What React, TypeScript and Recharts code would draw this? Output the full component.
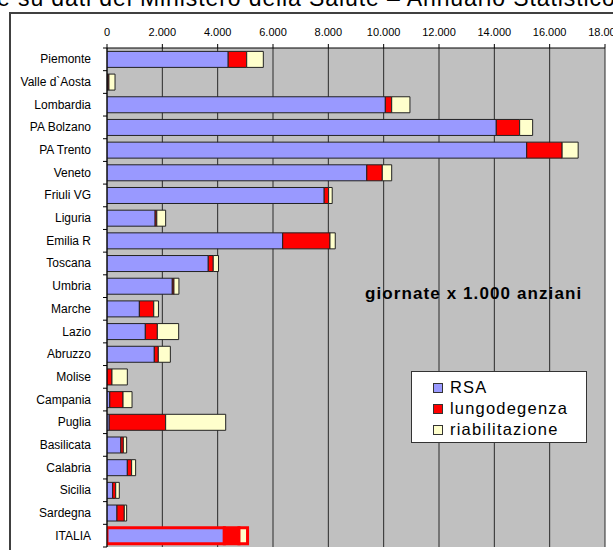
import React from "react";
import {
    BarChart,
    Bar,
    XAxis,
    YAxis,
    CartesianGrid,
    Legend,
    Cell,
} from "recharts";

const FONT = "'Liberation Sans', Arial, sans-serif";

const regioni = [
    "Piemonte",
    "Valle d`Aosta",
    "Lombardia",
    "PA Bolzano",
    "PA Trento",
    "Veneto",
    "Friuli VG",
    "Liguria",
    "Emilia R",
    "Toscana",
    "Umbria",
    "Marche",
    "Lazio",
    "Abruzzo",
    "Molise",
    "Campania",
    "Puglia",
    "Basilicata",
    "Calabria",
    "Sicilia",
    "Sardegna",
    "ITALIA",
];

const rsa = [4380, 30, 10060, 14070, 15170, 9390, 7850, 1740, 6350, 3660, 2360, 1170, 1385, 1710, 0, 100, 80, 500, 735, 205, 360, 4240];
const lungodegenza = [670, 40, 230, 845, 1280, 560, 160, 60, 1710, 180, 60, 520, 435, 145, 180, 480, 2040, 90, 155, 110, 265, 530];
const riabilitazione = [600, 220, 660, 470, 580, 340, 130, 320, 190, 190, 180, 170, 770, 435, 555, 325, 2170, 120, 145, 130, 85, 310];

const xTicks = [0, 2000, 4000, 6000, 8000, 10000, 12000, 14000, 16000, 18000];

const data = regioni.map((regione, i) => ({
    regione,
    rsa: rsa[i],
    lungodegenza: lungodegenza[i],
    riabilitazione: riabilitazione[i],
}));

const COLORS = {
    rsa: "#9999FF",
    lungodegenza: "#FF0000",
    riabilitazione: "#FFFFCC",
};

const AXIS_X = 107;

const fmtDot = (v: number) => String(v).replace(/\B(?=(\d{3})+(?!\d))/g, ".");

// category label plus the tick marks between categories (Excel style)
function RegionTick(props: any) {
    const { x, y, payload, index } = props;
    const half = payload?.offset ?? 11.34;
    return (
        <g>
            {index === 0 && (
                <line x1={AXIS_X - 4} x2={AXIS_X} y1={y - half} y2={y - half} stroke="#000" />
            )}
            <line x1={AXIS_X - 4} x2={AXIS_X} y1={y + half} y2={y + half} stroke="#000" />
            <text
                x={x}
                y={y}
                dy={4}
                textAnchor="end"
                fill="#000"
                fontSize={12}
                fontFamily={FONT}
            >
                {payload.value}
            </text>
        </g>
    );
}

function LegendBox(props: any) {
    const items = props.payload ?? [];
    return (
        <div
            style={{
                width: 176,
                height: 72,
                boxSizing: "border-box",
                border: "1px solid #333",
                background: "#fff",
                paddingTop: 5,
                paddingLeft: 21,
                fontFamily: FONT,
                fontSize: 16.5,
                letterSpacing: 1.2,
                color: "#000",
            }}
        >
            {items.map((it: any) => (
                <div
                    key={it.value}
                    style={{ display: "flex", alignItems: "center", height: 21 }}
                >
                    <span
                        style={{
                            display: "inline-block",
                            width: 10,
                            height: 10,
                            boxSizing: "border-box",
                            border: "1px solid #333",
                            background: it.color,
                            marginRight: 7,
                        }}
                    />
                    <span>{it.value}</span>
                </div>
            ))}
        </div>
    );
}

export default function App() {
    return (
        <div
            style={{
                position: "fixed",
                left: 0,
                top: 0,
                width: 613,
                height: 550,
                background: "#fff",
                overflow: "hidden",
            }}
        >
            <svg
                width={613}
                height={20}
                style={{ position: "absolute", left: 0, top: 0 }}
            >
                <text
                    x={-3}
                    y={6}
                    fontSize={23}
                    letterSpacing={0.9}
                    fontFamily={FONT}
                    fill="#000"
                >
                    e su dati del Ministero della Salute – Annuario Statistico
                </text>
            </svg>
            <div
                style={{
                    position: "absolute",
                    left: 9,
                    top: 12,
                    width: 700,
                    height: 600,
                    borderLeft: "2px solid #404040",
                    borderTop: "2px solid #404040",
                }}
            />
            <div style={{ position: "absolute", left: 0, top: 0 }}>
                <BarChart
                    width={613}
                    height={550}
                    data={data}
                    layout="vertical"
                    margin={{ top: 18, right: 8, bottom: 3, left: 0 }}
                    barCategoryGap="15%"
                >
                    <CartesianGrid
                        horizontal={false}
                        vertical={true}
                        stroke="#2a2a2a"
                        fill="#C0C0C0"
                        fillOpacity={1}
                    />
                    <XAxis
                        type="number"
                        orientation="top"
                        domain={[0, 18000]}
                        ticks={xTicks}
                        interval={0}
                        height={30}
                        tickSize={4}
                        tickMargin={8}
                        axisLine={{ stroke: "#000" }}
                        tickLine={{ stroke: "#000" }}
                        tick={{ fill: "#000", fontSize: 11, fontFamily: FONT }}
                        tickFormatter={(v: number) => fmtDot(v)}
                        allowDataOverflow
                    />
                    <YAxis
                        type="category"
                        dataKey="regione"
                        width={AXIS_X}
                        interval={0}
                        tickSize={4}
                        tickMargin={12}
                        axisLine={{ stroke: "#000" }}
                        tickLine={false}
                        tick={<RegionTick />}
                    />
                    <Legend
                        layout="vertical"
                        align="center"
                        verticalAlign="middle"
                        wrapperStyle={{ left: 411, top: 371, width: 176 }}
                        content={<LegendBox />}
                    />
                    <Bar
                        dataKey="rsa"
                        name="RSA"
                        stackId="a"
                        fill={COLORS.rsa}
                        stroke="#222"
                        strokeWidth={1}
                        isAnimationActive={false}
                    >
                        {data.map((d) => (
                            <Cell
                                key={d.regione}
                                stroke={d.regione === "ITALIA" ? "#FF0000" : "#222"}
                                strokeWidth={d.regione === "ITALIA" ? 3 : 1}
                            />
                        ))}
                    </Bar>
                    <Bar
                        dataKey="lungodegenza"
                        name="lungodegenza"
                        stackId="a"
                        fill={COLORS.lungodegenza}
                        stroke="#222"
                        strokeWidth={1}
                        isAnimationActive={false}
                    >
                        {data.map((d) => (
                            <Cell
                                key={d.regione}
                                stroke={d.regione === "ITALIA" ? "#FF0000" : "#222"}
                                strokeWidth={d.regione === "ITALIA" ? 3 : 1}
                            />
                        ))}
                    </Bar>
                    <Bar
                        dataKey="riabilitazione"
                        name="riabilitazione"
                        stackId="a"
                        fill={COLORS.riabilitazione}
                        stroke="#222"
                        strokeWidth={1}
                        isAnimationActive={false}
                    >
                        {data.map((d) => (
                            <Cell
                                key={d.regione}
                                stroke={d.regione === "ITALIA" ? "#FF0000" : "#222"}
                                strokeWidth={d.regione === "ITALIA" ? 3 : 1}
                            />
                        ))}
                    </Bar>
                </BarChart>
            </div>
            <svg
                width={613}
                height={550}
                style={{ position: "absolute", left: 0, top: 0, pointerEvents: "none" }}
            >
                <text
                    x={365}
                    y={299}
                    fontSize={17}
                    fontWeight="bold"
                    letterSpacing={1.1}
                    fontFamily={FONT}
                    fill="#000"
                >
                    giornate x 1.000 anziani
                </text>
            </svg>
        </div>
    );
}
